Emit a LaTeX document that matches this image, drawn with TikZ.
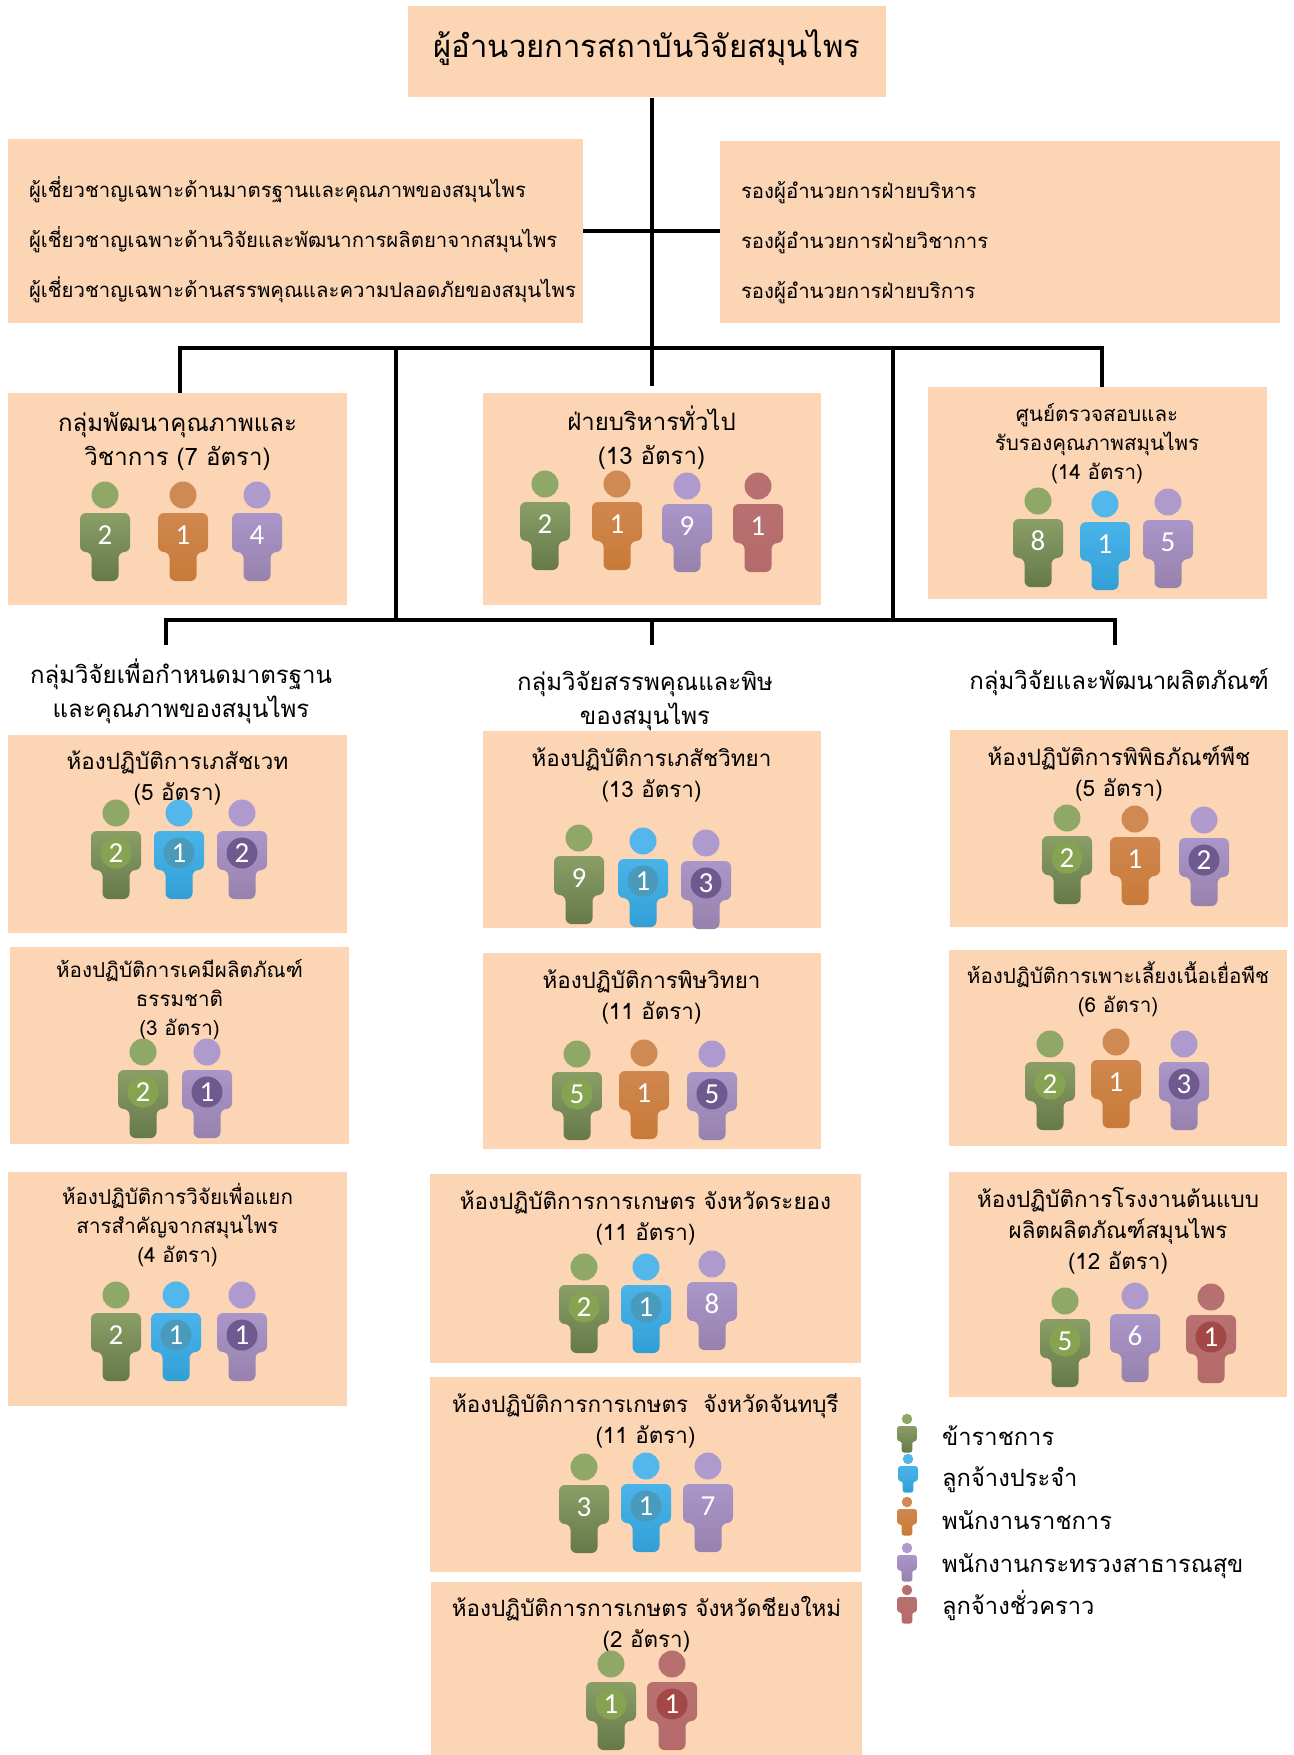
\documentclass[tikz,border=0pt]{standalone}
\usepackage{fontspec}
\usepackage{tikz}
\usetikzlibrary{positioning}
\setmainfont[Script=Thai]{Loma}
\newfontfamily\digitfont{Carlito}

\definecolor{panelfill}{HTML}{FCD5B5}
\definecolor{green}{HTML}{8FA767}
\definecolor{greentop}{HTML}{8A9E66}
\definecolor{greenbot}{HTML}{66794A}
\definecolor{greenmark}{HTML}{86A352}
\definecolor{blue}{HTML}{53B7EC}
\definecolor{bluetop}{HTML}{4AB4EA}
\definecolor{bluebot}{HTML}{319FD6}
\definecolor{bluemark}{HTML}{4A9BBB}
\definecolor{orange}{HTML}{CE8A52}
\definecolor{orangetop}{HTML}{D0874E}
\definecolor{orangebot}{HTML}{C87A38}
\definecolor{purple}{HTML}{AE9ACD}
\definecolor{purpletop}{HTML}{AA96C8}
\definecolor{purplebot}{HTML}{9782AE}
\definecolor{purplemark}{HTML}{6F5A90}
\definecolor{red}{HTML}{B77070}
\definecolor{redtop}{HTML}{B87070}
\definecolor{redbot}{HTML}{B56A6A}
\definecolor{redmark}{HTML}{A34747}

% one staff figure, head centre at (x,y)
\newcommand{\stafficon}[4]{
  \begin{scope}[shift={(#1,#2)},scale=#4]
    \fill[#3] (0,0) circle (13.5);
    \path[rounded corners=6pt*#4,top color=#3top,bottom color=#3bot]
      (-25,18) -- (25,18) -- (25,57) -- (13.5,57) -- (13.5,86) -- (-13.5,86)
      -- (-13.5,57) -- (-25,57) -- cycle;
  \end{scope}
}
% figure with its number: [mark colour]{name}{x}{y}{colour}{number}
\newcommand{\staff}[6][none]{
  \stafficon{#3}{#4}{#5}{1}
  \node[count,fill=#1] (#2) at (#3,#4+40) {#6};
}

\begin{document}
\begin{tikzpicture}[
    x=1pt,
    y=-1pt,
    link/.style={draw=black,line width=3.8pt},
    panel/.style={fill=panelfill,inner sep=0pt},
    count/.style={circle,minimum size=31pt,inner sep=0pt,text=white,font=\digitfont\fontsize{29}{29}\selectfont},
    roster/.style={font=\fontsize{20.35}{50}\selectfont,align=left,inner sep=0pt},
    head/.style={font=\fontsize{24}{34}\selectfont,align=center,inner sep=0pt},
    room/.style={font=\fontsize{22.4}{31}\selectfont,align=center,inner sep=0pt},
    smallroom/.style={font=\fontsize{20.6}{29}\selectfont,align=center,inner sep=0pt},
    key/.style={font=\fontsize{23.7}{28}\selectfont,inner sep=0pt,anchor=west}
    ]
    \useasboundingbox (0,0) rectangle (1293,1755);

    % top of the chart
    \node[panel,minimum width=478pt,minimum height=91pt] (top) at (647,52) {};
    \node[font=\fontsize{31}{31}\selectfont,inner sep=0pt,yshift=4pt] (topt) at (top) {ผู้อำนวยการสถาบันวิจัยสมุนไพร};
    \node[panel,minimum width=575pt,minimum height=184pt] (expert) at (295.5,231) {};
    \node[panel,minimum width=560pt,minimum height=182pt] (deputy) at (1000,232) {};
    \node[roster] (expertt) [right=21pt of expert.west,yshift=-9pt] {ผู้เชี่ยวชาญเฉพาะด้านมาตรฐานและคุณภาพของสมุนไพร\\ผู้เชี่ยวชาญเฉพาะด้านวิจัยและพัฒนาการผลิตยาจากสมุนไพร\\ผู้เชี่ยวชาญเฉพาะด้านสรรพคุณและความปลอดภัยของสมุนไพร};
    \node[roster] (deputyt) [right=21pt of deputy.west,yshift=-11pt] {รองผู้อำนวยการฝ่ายบริหาร\\รองผู้อำนวยการฝ่ายวิชาการ\\รองผู้อำนวยการฝ่ายบริการ};

    % divisions
    \node[panel,minimum width=339pt,minimum height=212pt] (qa) at (177.5,499) {};
    \node[panel,minimum width=338pt,minimum height=212pt] (admin) at (651.5,499) {};
    \node[panel,minimum width=339pt,minimum height=212pt] (center) at (1097,493) {};
    \node[head] (qat) [below=19pt of qa.north] {กลุ่มพัฒนาคุณภาพและ\\วิชาการ (7 อัตรา)};
    \node[head] (admint) [below=13pt of admin.north] {ฝ่ายบริหารทั่วไป\\(13 อัตรา)};
    \node[smallroom] (centert) [below=16pt of center.north] {ศูนย์ตรวจสอบและ\\รับรองคุณภาพสมุนไพร\\(14 อัตรา)};

    % research groups
    \node[head] (stdt) at (181,691) {กลุ่มวิจัยเพื่อกำหนดมาตรฐาน\\และคุณภาพของสมุนไพร};
    \node[head] (pharmt) at (645,701) {กลุ่มวิจัยสรรพคุณและพิษ\\ของสมุนไพร};
    \node[head] (prodt) at (1119,682) {กลุ่มวิจัยและพัฒนาผลิตภัณฑ์};

    % laboratories, left column
    \node[panel,minimum width=339pt,minimum height=198pt] (vet) at (177.5,834) {};
    \node[panel,minimum width=339pt,minimum height=197pt] (chem) at (179.5,1045.5) {};
    \node[panel,minimum width=339pt,minimum height=234pt] (sep) at (177.5,1288.5) {};
    \node[room] (vett) [below=16pt of vet.north] {ห้องปฏิบัติการเภสัชเวท\\(5 อัตรา)};
    \node[smallroom] (chemt) [below=12pt of chem.north] {ห้องปฏิบัติการเคมีผลิตภัณฑ์\\ธรรมชาติ\\(3 อัตรา)};
    \node[smallroom] (sept) [below=12pt of sep.north] {ห้องปฏิบัติการวิจัยเพื่อแยก\\สารสำคัญจากสมุนไพร\\(4 อัตรา)};

    % laboratories, middle column
    \node[panel,minimum width=338pt,minimum height=197pt] (pharm) at (651.5,829.5) {};
    \node[panel,minimum width=338pt,minimum height=196pt] (tox) at (651.5,1051) {};
    \node[panel,minimum width=431pt,minimum height=189pt] (ray) at (645.5,1268.5) {};
    \node[panel,minimum width=431pt,minimum height=195pt] (chan) at (645.5,1474.5) {};
    \node[panel,minimum width=431pt,minimum height=175pt] (chi) at (646.5,1669.5) {};
    \node[room] (pharmlabt) [below=17pt of pharm.north] {ห้องปฏิบัติการเภสัชวิทยา\\(13 อัตรา)};
    \node[room] (toxt) [below=17pt of tox.north] {ห้องปฏิบัติการพิษวิทยา\\(11 อัตรา)};
    \node[room] (rayt) [below=17pt of ray.north] {ห้องปฏิบัติการการเกษตร จังหวัดระยอง\\(11 อัตรา)};
    \node[room] (chant) [below=17pt of chan.north] {ห้องปฏิบัติการการเกษตร\ \ จังหวัดจันทบุรี\\(11 อัตรา)};
    \node[room] (chit) [below=14pt of chi.north] {ห้องปฏิบัติการการเกษตร จังหวัดชียงใหม่\\(2 อัตรา)};

    % laboratories, right column
    \node[panel,minimum width=338pt,minimum height=197pt] (herb) at (1119,828.5) {};
    \node[panel,minimum width=338pt,minimum height=196pt] (tissue) at (1118,1048) {};
    \node[panel,minimum width=338pt,minimum height=225pt] (pilot) at (1118,1284) {};
    \node[room] (herbt) [below=16pt of herb.north] {ห้องปฏิบัติการพิพิธภัณฑ์พืช\\(5 อัตรา)};
    \node[smallroom] (tissuet) [below=12pt of tissue.north] {ห้องปฏิบัติการเพาะเลี้ยงเนื้อเยื่อพืช\\(6 อัตรา)};
    \node[room] (pilott) [below=16pt of pilot.north] {ห้องปฏิบัติการโรงงานต้นแบบ\\ผลิตผลิตภัณฑ์สมุนไพร\\(12 อัตรา)};

    % connectors
    \coordinate (bus1l) at (180,348);
    \coordinate (bus1r) at (1102,348);
    \coordinate (bus1c) at (652,348);
    \coordinate (bus1m) at (396,348);
    \coordinate (bus1n) at (893,348);
    \coordinate (bus2l) at (166,620);
    \coordinate (bus2r) at (1115,620);
    \coordinate (bus2c) at (652,620);
    \coordinate (bus2m) at (396,620);
    \coordinate (bus2n) at (893,620);
    \coordinate (stubl) at (166,645);
    \coordinate (stubc) at (652,645);
    \coordinate (stubr) at (1115,645);
    \coordinate (endc) at (652,386);
    \draw[link] (top.south -| endc) -- (endc);
    \draw[link] (expert.east) -- (expert.east -| deputy.west);
    \draw[link] (qa.north -| bus1l) -- (bus1l) -- (bus1r) -- (center.north -| bus1r);
    \draw[link] (bus1m) -- (bus2m);
    \draw[link] (bus1n) -- (bus2n);
    \draw[link] (stubl) -- (bus2l) -- (bus2r) -- (stubr);
    \draw[link] (bus2c) -- (stubc);

    % staff figures
    \staff{qa1}{105}{495}{green}{2}
    \staff{qa2}{183}{495}{orange}{1}
    \staff{qa3}{257}{495}{purple}{4}
    \staff{admin1}{545}{484}{green}{2}
    \staff{admin2}{617}{484}{orange}{1}
    \staff{admin3}{687}{486}{purple}{9}
    \staff{admin4}{758}{486}{red}{1}
    \staff{center1}{1038}{501}{green}{8}
    \staff{center2}{1105}{504}{blue}{1}
    \staff{center3}{1168}{502}{purple}{5}
    \staff[greenmark]{vet1}{116}{813}{green}{2}
    \staff[bluemark]{vet2}{179}{813}{blue}{1}
    \staff[purplemark]{vet3}{242}{813}{purple}{2}
    \staff[greenmark]{chem1}{143}{1052}{green}{2}
    \staff[purplemark]{chem2}{207}{1052}{purple}{1}
    \staff{sep1}{116}{1295}{green}{2}
    \staff[bluemark]{sep2}{176}{1295}{blue}{1}
    \staff[purplemark]{sep3}{242}{1295}{purple}{1}
    \staff{pharm1}{579}{838}{green}{9}
    \staff[bluemark]{pharm2}{643}{841}{blue}{1}
    \staff[purplemark]{pharm3}{706}{843}{purple}{3}
    \staff[greenmark]{tox1}{577}{1054}{green}{5}
    \staff{tox2}{644}{1053}{orange}{1}
    \staff[purplemark]{tox3}{712}{1054}{purple}{5}
    \staff[greenmark]{ray1}{584}{1267}{green}{2}
    \staff[bluemark]{ray2}{646}{1267}{blue}{1}
    \staff{ray3}{712}{1264}{purple}{8}
    \staff{chan1}{584}{1467}{green}{3}
    \staff[bluemark]{chan2}{646}{1466}{blue}{1}
    \staff{chan3}{708}{1466}{purple}{7}
    \staff[greenmark]{chi1}{611}{1664}{green}{1}
    \staff[redmark]{chi2}{672}{1664}{red}{1}
    \staff[greenmark]{herb1}{1067}{818}{green}{2}
    \staff{herb2}{1135}{819}{orange}{1}
    \staff[purplemark]{herb3}{1204}{820}{purple}{2}
    \staff[greenmark]{tissue1}{1050}{1044}{green}{2}
    \staff{tissue2}{1116}{1042}{orange}{1}
    \staff[purplemark]{tissue3}{1184}{1044}{purple}{3}
    \staff[greenmark]{pilot1}{1065}{1301}{green}{5}
    \staff{pilot2}{1135}{1296}{purple}{6}
    \staff[redmark]{pilot3}{1211}{1297}{red}{1}

    % legend
    \stafficon{907}{1419}{green}{.39}
    \stafficon{908}{1459}{blue}{.39}
    \stafficon{907}{1502}{orange}{.39}
    \stafficon{907}{1548}{purple}{.39}
    \stafficon{907}{1590}{red}{.39}
    \node[key] (key1) at (942,1436) {ข้าราชการ};
    \node[key] (key2) at (942,1480) {ลูกจ้างประจำ};
    \node[key] (key3) at (942,1520) {พนักงานราชการ};
    \node[key] (key4) at (942,1566) {พนักงานกระทรวงสาธารณสุข};
    \node[key] (key5) at (942,1605) {ลูกจ้างชั่วคราว};
\end{tikzpicture}
\end{document}
